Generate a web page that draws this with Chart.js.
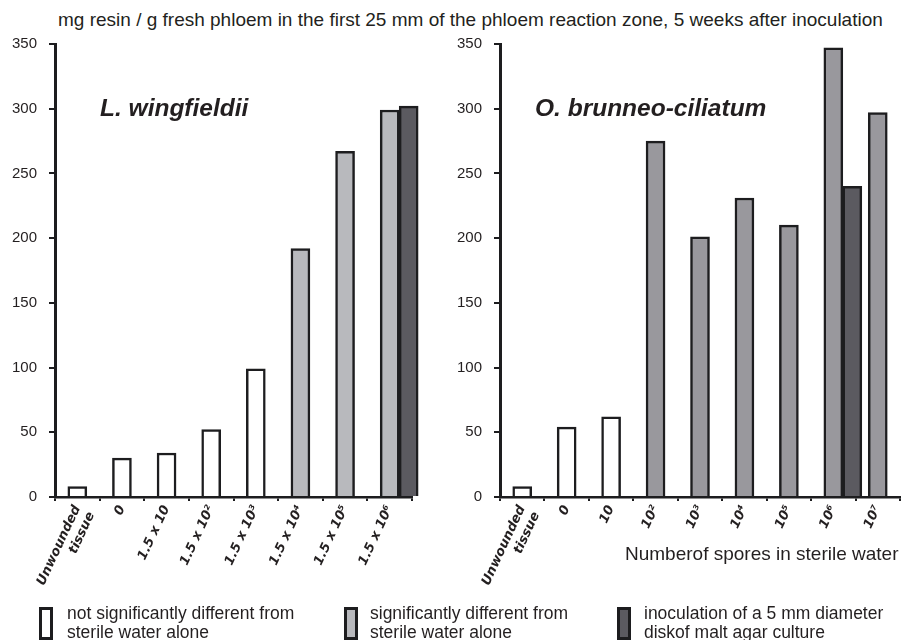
<!DOCTYPE html>
<html lang="en">
<head>
    <meta charset="UTF-8">
    <title>Resin in phloem reaction zone</title>
    <script src="https://cdn.jsdelivr.net/npm/chart.js"></script>
    <style>
        body {
            margin: 0;
            width: 901px;
            height: 640px;
            background: #fff;
            position: relative;
            overflow: hidden;
            font-family: "Liberation Sans", Arial, sans-serif;
            color: #231f20;
        }
        canvas { position: absolute; top: 0; }
        #leftChart { left: 0; }
        #rightChart { left: 450px; }
        .txt { position: absolute; white-space: nowrap; }
        .title { left: 58px; top: 9px; font-size: 19px; }
        .species { top: 94px; font-size: 24.5px; font-weight: bold; font-style: italic; }
        .xname { left: 625px; top: 543px; font-size: 19px; }
        .key { position: absolute; top: 607px; width: 8px; height: 27px; border: 3px solid #1d1d1f; }
        .keytext { top: 604px; font-size: 17.5px; line-height: 19px; }
    </style>
</head>
<body>
    <div class="txt title">mg resin / g fresh phloem in the first 25 mm of the phloem reaction zone, 5 weeks after inoculation</div>
    <canvas id="leftChart" width="450" height="640"></canvas>
    <canvas id="rightChart" width="451" height="640"></canvas>
    <div class="txt species" style="left:100px">L. wingfieldii</div>
    <div class="txt species" style="left:535px">O. brunneo-ciliatum</div>
    <div class="txt xname">Numberof spores in sterile water</div>

    <div class="key" style="left:39px; background:#ffffff"></div>
    <div class="txt keytext" style="left:67px">not significantly different from<br>sterile water alone</div>
    <div class="key" style="left:344px; background:#b8b9bd"></div>
    <div class="txt keytext" style="left:370px">significantly different from<br>sterile water alone</div>
    <div class="key" style="left:617px; background:#5b5a60"></div>
    <div class="txt keytext" style="left:644px">inoculation of a 5 mm diameter<br>diskof malt agar culture</div>

    <script>
        // L. wingfieldii
        const leftLabels = [['Unwounded', 'tissue'], '0', '1.5 x 10', '1.5 x 10²', '1.5 x 10³', '1.5 x 10⁴', '1.5 x 10⁵', '1.5 x 10⁶'];
        const leftValues = [8, 30, 34, 52, 99, 192, 267, 299];
        const leftSignificant = [false, false, false, false, false, true, true, true];
        const leftDisk = [null, null, null, null, null, null, null, 302];

        // O. brunneo-ciliatum
        const rightLabels = [['Unwounded', 'tissue'], '0', '10', '10²', '10³', '10⁴', '10⁵', '10⁶', '10⁷'];
        const rightValues = [8, 54, 62, 275, 201, 231, 210, 347, 297];
        const rightSignificant = [false, false, false, true, true, true, true, true, true];
        const rightDisk = [null, null, null, null, null, null, null, 240, null];

        const yMin = 0, yMax = 350, yStep = 50;

        const ink = '#1d1d1f';

        function makeChart(id, labels, values, significant, disk, sigColor, yWidth, padRight) {
            const fills = significant.map(s => s ? sigColor : '#ffffff');
            const blank = labels.map(() => null);
            return new Chart(document.getElementById(id), {
                type: 'bar',
                data: {
                    labels: labels,
                    datasets: [
                        // empty slot so the main bar stays centred and the disk bar sits to its right
                        { data: blank, backgroundColor: 'transparent', borderWidth: 0 },
                        { data: values, backgroundColor: fills, borderColor: ink, borderWidth: 2.5 },
                        { data: disk, backgroundColor: '#5b5a60', borderColor: ink, borderWidth: 2.5, clip: false }
                    ]
                },
                options: {
                    responsive: false,
                    animation: false,
                    barThickness: 19,
                    layout: { padding: { left: 0, right: padRight, top: 44, bottom: 0 } },
                    plugins: { legend: { display: false }, tooltip: { enabled: false } },
                    scales: {
                        x: {
                            afterFit: s => { s.height = 143; },
                            border: { color: ink, width: 2.5 },
                            grid: { drawOnChartArea: false, tickLength: 4, color: ink, lineWidth: 2, offset: true },
                            ticks: {
                                minRotation: 65, maxRotation: 65, padding: 2, color: '#231f20',
                                font: { family: 'DejaVu Sans', size: 13, style: 'italic', weight: 'bold' }
                            }
                        },
                        y: {
                            min: yMin, max: yMax,
                            afterFit: s => { s.width = yWidth; },
                            border: { color: ink, width: 3 },
                            grid: { drawOnChartArea: false, tickLength: 6, color: ink, lineWidth: 2 },
                            ticks: {
                                stepSize: yStep, padding: 12, color: '#231f20',
                                font: { family: 'Liberation Sans', size: 15 }
                            }
                        }
                    }
                }
            });
        }

        makeChart('leftChart', leftLabels, leftValues, leftSignificant, leftDisk, '#b8b9bd', 55, 38);
        makeChart('rightChart', rightLabels, rightValues, rightSignificant, rightDisk, '#99989d', 50, 1);
    </script>
</body>
</html>
